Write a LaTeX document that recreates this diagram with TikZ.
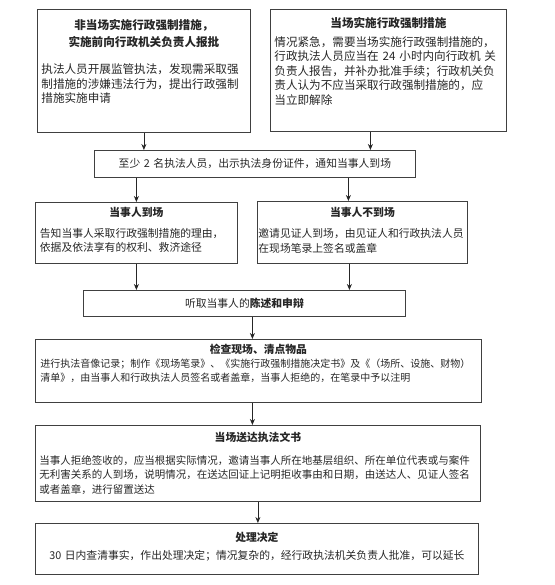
\documentclass[tikz,border=0pt]{standalone}
\usepackage{fontspec}
\setmainfont{Noto Sans CJK SC}
\usetikzlibrary{arrows.meta,calc}
\newcommand{\ttl}[2][0pt]{{\centering\bfseries #2\par}\vspace{#1}}

\begin{document}
\begin{tikzpicture}[x=1pt, y=1pt,
  font=\fontsize{10.8}{14.5}\selectfont,
  blk/.style={draw=black!75, line width=0.8pt, text=black!85, anchor=north west,
    align=left, inner xsep=4pt, inner ysep=0pt},
  bar/.style={draw=black!75, line width=0.8pt, text=black!85, anchor=north west,
    align=center, inner sep=0pt},
  big/.style={font=\fontsize{11.6}{14.5}\selectfont},
  arr/.style={-{Stealth[length=6pt,width=5pt]}, line width=0.8pt, draw=black!85},
]
\useasboundingbox (0,0) rectangle (554,-585);
% approval routes
\node[blk, big, text width=205, text height=20, text depth=103] (pre) at (37,-9)
  {\ttl[13pt]{非当场实施行政强制措施，\\[2.5pt]实施前向行政机关负责人报批}执法人员开展监管执法，发现需采取强\\制措施的涉嫌违法行为，提出行政强制\\措施实施申请};
\node[blk, big, text width=228, text height=18, text depth=104] (onsite) at (270,-9)
  {\ttl[4.5pt]{当场实施行政强制措施}情况紧急，需要当场实施行政强制措施的，\\行政执法人员应当在 24 小时内向行政机 关\\负责人报告，并补办批准手续；行政机关负\\责人认为不应当采取行政强制措施的，应\\当立即解除};
% notification and the two cases
\node[bar, text width=321, minimum height=27] (notify) at (94,-150)
  {至少 2 名执法人员，出示执法身份证件，通知当事人到场};
\node[blk, text width=193, text height=14, text depth=47, inner xsep=4.5pt] (present) at (35,-202)
  {\ttl[6.5pt]{当事人到场}告知当事人采取行政强制措施的理由，\\依据及依法享有的权利、救济途径};
\node[blk, text width=208, text height=14.7, text depth=47.3, inner xsep=1pt] (absent) at (257,-201)
  {\ttl[7pt]{当事人不到场}邀请见证人到场，由见证人和行政执法人员\\在现场笔录上签名或盖章};
% on-site steps
\node[bar, text width=322, minimum height=26] (hear) at (83,-290)
  {听取当事人的\textbf{陈述和申辩}};
\node[blk, text width=436, text height=14, text depth=49, inner xsep=5pt] (check) at (35,-339)
  {\ttl[-2pt]{检查现场、清点物品}\fontsize{10}{16}\selectfont 进行执法音像记录；制作《现场笔录》、《实施行政强制措施决定书》及《（场所、设施、财物）\\清单》，由当事人和行政执法人员签名或者盖章，当事人拒绝的，在笔录中予以注明};
\node[blk, text width=437, text height=16, text depth=60] (serve) at (35,-425)
  {\ttl[8.5pt]{当场送达执法文书}\fontsize{10.5}{14.5}\selectfont 当事人拒绝签收的，应当根据实际情况，邀请当事人所在地基层组织、所在单位代表或与案件\\无利害关系的人到场，说明情况，在送达回证上记明拒收事由和日期，由送达人、见证人签名\\或者盖章，进行留置送达};
\node[blk, text width=435, text height=18, text depth=33, align=center] (decide) at (35,-523)
  {\ttl[3.5pt]{处理决定}30 日内查清事实，作出处理决定；情况复杂的，经行政执法机关负责人批准，可以延长};
% arrow anchors
\coordinate (onout) at ([xshift=-18pt]onsite.south);
\coordinate (absin) at ([xshift=-14pt]absent.north);
\coordinate (absout) at ([xshift=-13pt]absent.south);
\coordinate (hearout) at ([xshift=8pt]hear.south);
\coordinate (checkout) at ([xshift=-6pt]check.south);
% edges
\draw[arr] (pre.south) -- (pre.south |- notify.north);
\draw[arr] (onout) -- (onout |- notify.north);
\draw[arr] (present.north |- notify.south) -- (present.north);
\draw[arr] (absin |- notify.south) -- (absin);
\draw[arr] (present.south) -- (present.south |- hear.north);
\draw[arr] (absout) -- (absout |- hear.north);
\draw[arr] (hearout) -- (hearout |- check.north);
\draw[arr] (checkout) -- (checkout |- serve.north);
\draw[arr] (serve.south) -- (serve.south |- decide.north);
\end{tikzpicture}
\end{document}
